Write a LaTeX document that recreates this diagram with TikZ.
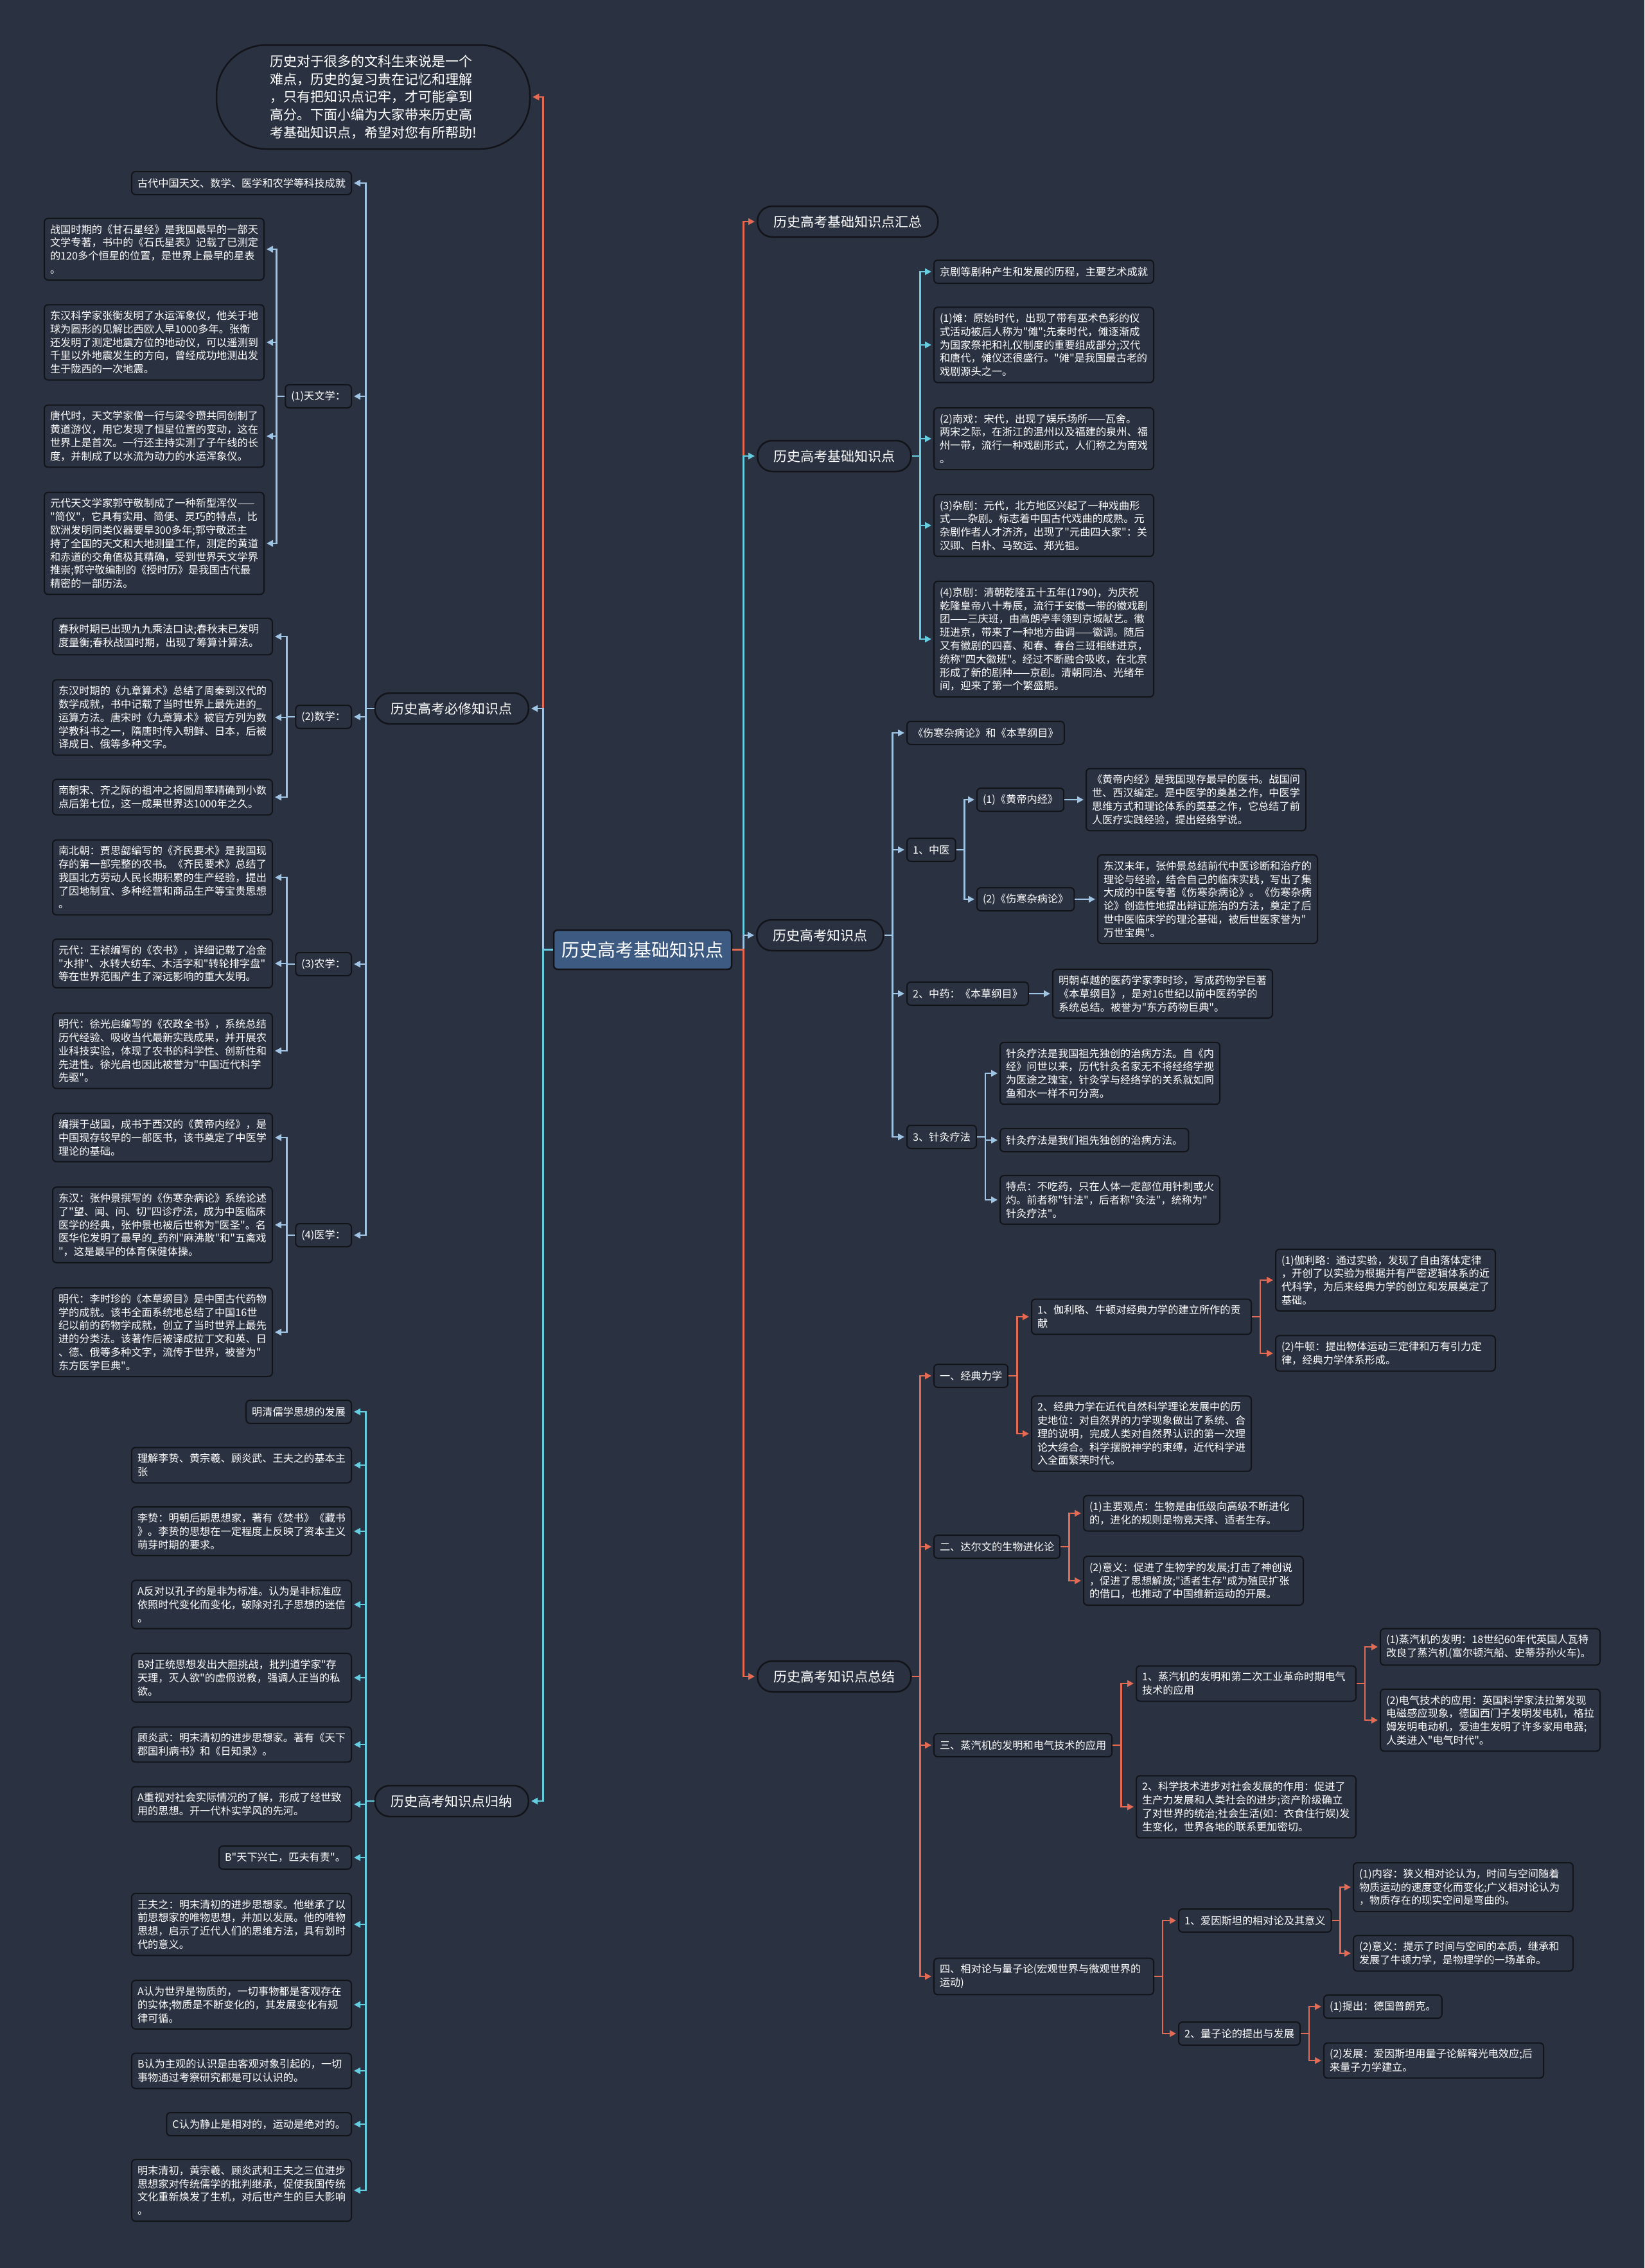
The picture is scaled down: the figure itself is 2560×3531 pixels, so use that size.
\documentclass[tikz,border=0pt]{standalone}
\usepackage{fontspec}
\newfontfamily\cjk{Noto Sans CJK SC}
\usetikzlibrary{arrows.meta}
\definecolor{bgc}{RGB}{42,49,64}
\definecolor{nodeline}{RGB}{18,20,26}
\definecolor{rootc}{RGB}{60,90,130}
\definecolor{lred}{RGB}{228,106,84}
\definecolor{lblue}{RGB}{160,196,228}
\definecolor{lcyan}{RGB}{102,204,224}
\tikzset{
 box/.style={draw=nodeline, line width=2pt, fill=bgc, rounded corners=6pt, inner xsep=9pt, inner ysep=9.5pt, align=left, text=white, font=\cjk\fontsize{16.2}{20.8}\selectfont},
 para/.style={box, text width=324pt},
 lab/.style={box, minimum height=36pt},
 topic/.style={draw=nodeline, line width=2.5pt, fill=bgc, rounded corners=23pt, inner xsep=25pt, inner ysep=0pt, minimum height=48pt, text=white, font=\cjk\fontsize{21}{26}\selectfont},
 rootst/.style={draw=nodeline, line width=2.5pt, fill=rootc, rounded corners=6pt, inner xsep=12pt, minimum height=61pt, minimum width=277pt, text=white, font=\cjk\fontsize{28}{32}\selectfont},
 introst/.style={draw=nodeline, line width=2.5pt, fill=bgc, rounded corners=78pt, minimum width=488pt, minimum height=162pt, text width=322pt, align=left, text=white, font=\cjk\fontsize{21}{27.7}\selectfont},
 conn/.style={line width=2.8pt, -{Triangle[length=10pt,width=10pt]}, shorten >=3pt},
}
\begin{document}
\begin{tikzpicture}[x=1pt,y=-1pt]
\useasboundingbox (0,0) rectangle (2560,3531);
\fill[bgc] (0,0) rectangle (2560,3531);

% ---------- root and intro ----------
\node[rootst] (root) at (1000.5,1478.5) {历史高考基础知识点};
\node[introst] (intro) at (581,151) {历史对于很多的文科生来说是一个\\难点，历史的复习贵在记忆和理解\\，只有把知识点记牢，才可能拿到\\高分。下面小编为大家带来历史高\\考基础知识点，希望对您有所帮助!};

% ---------- main topics ----------
\node[topic, anchor=east] (bixiu) at (824,1103) {历史高考必修知识点};
\node[topic, anchor=east] (guina) at (824,2804) {历史高考知识点归纳};
\node[topic, anchor=west] (huizong) at (1178,345) {历史高考基础知识点汇总};
\node[topic, anchor=west] (jichu) at (1178,710) {历史高考基础知识点};
\node[topic, anchor=west] (zsd) at (1177,1456) {历史高考知识点};
\node[topic, anchor=west] (zongjie) at (1178,2610) {历史高考知识点总结};

% ---------- 必修 branch ----------
\node[lab, anchor=east] (gudai) at (548,285) {古代中国天文、数学、医学和农学等科技成就};
\node[lab, anchor=east] (tw) at (548,617) {(1)天文学：};
\node[para, anchor=east] (T1) at (412,388) {战国时期的《甘石星经》是我国最早的一部天\\文学专著，书中的《石氏星表》记载了已测定\\的120多个恒星的位置，是世界上最早的星表\\。};
\node[para, anchor=east] (T2) at (412,533) {东汉科学家张衡发明了水运浑象仪，他关于地\\球为圆形的见解比西欧人早1000多年。张衡\\还发明了测定地震方位的地动仪，可以遥测到\\千里以外地震发生的方向，曾经成功地测出发\\生于陇西的一次地震。};
\node[para, anchor=east] (T3) at (412,679) {唐代时，天文学家僧一行与梁令瓒共同创制了\\黄道游仪，用它发现了恒星位置的变动，这在\\世界上是首次。一行还主持实测了子午线的长\\度，并制成了以水流为动力的水运浑象仪。};
\node[para, anchor=east] (T4) at (412,846) {元代天文学家郭守敬制成了一种新型浑仪——\\"简仪"，它具有实用、简便、灵巧的特点，比\\欧洲发明同类仪器要早300多年;郭守敬还主\\持了全国的天文和大地测量工作，测定的黄道\\和赤道的交角值极其精确，受到世界天文学界\\推崇;郭守敬编制的《授时历》是我国古代最\\精密的一部历法。};

\node[lab, anchor=east] (sx) at (548,1116) {(2)数学：};
\node[para, anchor=east] (M1) at (425,991) {春秋时期已出现九九乘法口诀;春秋末已发明\\度量衡;春秋战国时期，出现了筹算计算法。};
\node[para, anchor=east] (M2) at (425,1117) {东汉时期的《九章算术》总结了周秦到汉代的\\数学成就，书中记载了当时世界上最先进的\_\\运算方法。唐宋时《九章算术》被官方列为数\\学教科书之一，隋唐时传入朝鲜、日本，后被\\译成日、俄等多种文字。};
\node[para, anchor=east] (M3) at (425,1241) {南朝宋、齐之际的祖冲之将圆周率精确到小数\\点后第七位，这一成果世界达1000年之久。};

\node[lab, anchor=east] (nx) at (548,1501) {(3)农学：};
\node[para, anchor=east] (A1) at (425,1366) {南北朝：贾思勰编写的《齐民要术》是我国现\\存的第一部完整的农书。《齐民要术》总结了\\我国北方劳动人民长期积累的生产经验，提出\\了因地制宜、多种经营和商品生产等宝贵思想\\。};
\node[para, anchor=east] (A2) at (425,1500) {元代：王祯编写的《农书》，详细记载了冶金\\"水排"、水转大纺车、木活字和"转轮排字盘"\\等在世界范围产生了深远影响的重大发明。};
\node[para, anchor=east] (A3) at (425,1636) {明代：徐光启编写的《农政全书》，系统总结\\历代经验、吸收当代最新实践成果，并开展农\\业科技实验，体现了农书的科学性、创新性和\\先进性。徐光启也因此被誉为"中国近代科学\\先驱"。};

\node[lab, anchor=east] (yx) at (548,1923) {(4)医学：};
\node[para, anchor=east] (Y1) at (425,1771) {编撰于战国，成书于西汉的《黄帝内经》，是\\中国现存较早的一部医书，该书奠定了中医学\\理论的基础。};
\node[para, anchor=east] (Y2) at (425,1907) {东汉：张仲景撰写的《伤寒杂病论》系统论述\\了"望、闻、问、切"四诊疗法，成为中医临床\\医学的经典，张仲景也被后世称为"医圣"。名\\医华佗发明了最早的\_药剂"麻沸散"和"五禽戏\\"，这是最早的体育保健体操。};
\node[para, anchor=east] (Y3) at (425,2074) {明代：李时珍的《本草纲目》是中国古代药物\\学的成就。该书全面系统地总结了中国16世\\纪以前的药物学成就，创立了当时世界上最先\\进的分类法。该著作后被译成拉丁文和英、日\\、德、俄等多种文字，流传于世界，被誉为"\\东方医学巨典"。};

% ---------- 归纳 branch ----------
\node[lab, anchor=east] (G1) at (548,2198) {明清儒学思想的发展};
\node[para, anchor=east] (G2) at (548,2281) {理解李贽、黄宗羲、顾炎武、王夫之的基本主\\张};
\node[para, anchor=east] (G3) at (548,2384) {李贽：明朝后期思想家，著有《焚书》《藏书\\》。李贽的思想在一定程度上反映了资本主义\\萌芽时期的要求。};
\node[para, anchor=east] (G4) at (548,2498) {A反对以孔子的是非为标准。认为是非标准应\\依照时代变化而变化，破除对孔子思想的迷信\\。};
\node[para, anchor=east] (G5) at (548,2612) {B对正统思想发出大胆挑战，批判道学家"存\\天理，灭人欲"的虚假说教，强调人正当的私\\欲。};
\node[para, anchor=east] (G6) at (548,2716) {顾炎武：明末清初的进步思想家。著有《天下\\郡国利病书》和《日知录》。};
\node[para, anchor=east] (G7) at (548,2809) {A重视对社会实际情况的了解，形成了经世致\\用的思想。开一代朴实学风的先河。};
\node[lab, anchor=east] (G8) at (548,2892) {B"天下兴亡，匹夫有责"。};
\node[para, anchor=east] (G9) at (548,2996) {王夫之：明末清初的进步思想家。他继承了以\\前思想家的唯物思想，并加以发展。他的唯物\\思想，启示了近代人们的思维方法，具有划时\\代的意义。};
\node[para, anchor=east] (G10) at (548,3121) {A认为世界是物质的，一切事物都是客观存在\\的实体;物质是不断变化的，其发展变化有规\\律可循。};
\node[para, anchor=east] (G11) at (548,3224) {B认为主观的认识是由客观对象引起的，一切\\事物通过考察研究都是可以认识的。};
\node[lab, anchor=east] (G12) at (548,3307) {C认为静止是相对的，运动是绝对的。};
\node[para, anchor=east] (G13) at (548,3410) {明末清初，黄宗羲、顾炎武和王夫之三位进步\\思想家对传统儒学的批判继承，促使我国传统\\文化重新焕发了生机，对后世产生的巨大影响\\。};

% ---------- 基础知识点 branch ----------
\node[lab, anchor=west] (B1) at (1453,423) {京剧等剧种产生和发展的历程，主要艺术成就};
\node[para, anchor=west] (B2) at (1453,537) {(1)傩：原始时代，出现了带有巫术色彩的仪\\式活动被后人称为"傩";先秦时代，傩逐渐成\\为国家祭祀和礼仪制度的重要组成部分;汉代\\和唐代，傩仪还很盛行。"傩"是我国最古老的\\戏剧源头之一。};
\node[para, anchor=west] (B3) at (1453,683) {(2)南戏：宋代，出现了娱乐场所——瓦舍。\\两宋之际，在浙江的温州以及福建的泉州、福\\州一带，流行一种戏剧形式，人们称之为南戏\\。};
\node[para, anchor=west] (B4) at (1453,818) {(3)杂剧：元代，北方地区兴起了一种戏曲形\\式——杂剧。标志着中国古代戏曲的成熟。元\\杂剧作者人才济济，出现了"元曲四大家"：关\\汉卿、白朴、马致远、郑光祖。};
\node[para, anchor=west] (B5) at (1453,995) {(4)京剧：清朝乾隆五十五年(1790)，为庆祝\\乾隆皇帝八十寿辰，流行于安徽一带的徽戏剧\\团——三庆班，由高朗亭率领到京城献艺。徽\\班进京，带来了一种地方曲调——徽调。随后\\又有徽剧的四喜、和春、春台三班相继进京，\\统称"四大徽班"。经过不断融合吸收，在北京\\形成了新的剧种——京剧。清朝同治、光绪年\\间，迎来了第一个繁盛期。};

% ---------- 知识点 branch ----------
\node[lab, anchor=west] (K1) at (1411,1141) {《伤寒杂病论》和《本草纲目》};
\node[lab, anchor=west] (K2) at (1411,1323) {1、中医};
\node[lab, anchor=west] (K2a) at (1520,1245) {(1)《黄帝内经》};
\node[lab, anchor=west] (K2b) at (1520,1400) {(2)《伤寒杂病论》};
\node[para, anchor=west] (K2at) at (1690,1245) {《黄帝内经》是我国现存最早的医书。战国问\\世、西汉编定。是中医学的奠基之作，中医学\\思维方式和理论体系的奠基之作，它总结了前\\人医疗实践经验，提出经络学说。};
\node[para, anchor=west] (K2bt) at (1708,1400) {东汉末年，张仲景总结前代中医诊断和治疗的\\理论与经验，结合自己的临床实践，写出了集\\大成的中医专著《伤寒杂病论》。《伤寒杂病\\论》创造性地提出辩证施治的方法，奠定了后\\世中医临床学的理沦基础，被后世医家誉为"\\万世宝典"。};
\node[lab, anchor=west] (K3) at (1411,1547) {2、中药：《本草纲目》};
\node[para, anchor=west] (K3t) at (1638,1547) {明朝卓越的医药学家李时珍，写成药物学巨著\\《本草纲目》，是对16世纪以前中医药学的\\系统总结。被誉为"东方药物巨典"。};
\node[lab, anchor=west] (K4) at (1411,1770) {3、针灸疗法};
\node[para, anchor=west] (K4a) at (1556,1671) {针灸疗法是我国祖先独创的治病方法。自《内\\经》问世以来，历代针灸名家无不将经络学视\\为医途之瑰宝，针灸学与经络学的关系就如同\\鱼和水一样不可分离。};
\node[lab, anchor=west] (K4b) at (1556,1775) {针灸疗法是我们祖先独创的治病方法。};
\node[para, anchor=west] (K4c) at (1556,1868) {特点：不吃药，只在人体一定部位用针刺或火\\灼。前者称"针法"，后者称"灸法"，统称为"\\针灸疗法"。};

% ---------- 总结 branch ----------
\node[lab, anchor=west] (S1) at (1453,2142) {一、经典力学};
\node[para, anchor=west] (S1a) at (1605,2050) {1、伽利略、牛顿对经典力学的建立所作的贡\\献};
\node[para, anchor=west] (S1a1) at (1985,1993) {(1)伽利略：通过实验，发现了自由落体定律\\，开创了以实验为根据并有严密逻辑体系的近\\代科学，为后来经典力学的创立和发展奠定了\\基础。};
\node[para, anchor=west] (S1a2) at (1985,2107) {(2)牛顿：提出物体运动三定律和万有引力定\\律，经典力学体系形成。};
\node[para, anchor=west] (S1b) at (1605,2232) {2、经典力学在近代自然科学理论发展中的历\\史地位：对自然界的力学现象做出了系统、合\\理的说明，完成人类对自然界认识的第一次理\\论大综合。科学摆脱神学的束缚，近代科学进\\入全面繁荣时代。};
\node[lab, anchor=west] (S2) at (1453,2408) {二、达尔文的生物进化论};
\node[para, anchor=west] (S2a) at (1686,2356) {(1)主要观点：生物是由低级向高级不断进化\\的，进化的规则是物竞天择、适者生存。};
\node[para, anchor=west] (S2b) at (1686,2461) {(2)意义：促进了生物学的发展;打击了神创说\\，促进了思想解放;"适者生存"成为殖民扩张\\的借口，也推动了中国维新运动的开展。};
\node[lab, anchor=west] (S3) at (1453,2717) {三、蒸汽机的发明和电气技术的应用};
\node[para, anchor=west] (S3a) at (1768,2621) {1、蒸汽机的发明和第二次工业革命时期电气\\技术的应用};
\node[para, anchor=west] (S3a1) at (2148,2564) {(1)蒸汽机的发明：18世纪60年代英国人瓦特\\改良了蒸汽机(富尔顿汽船、史蒂芬孙火车)。};
\node[para, anchor=west] (S3a2) at (2148,2678) {(2)电气技术的应用：英国科学家法拉第发现\\电磁感应现象，德国西门子发明发电机，格拉\\姆发明电动机，爱迪生发明了许多家用电器;\\人类进入"电气时代"。};
\node[para, anchor=west] (S3b) at (1768,2813) {2、科学技术进步对社会发展的作用：促进了\\生产力发展和人类社会的进步;资产阶级确立\\了对世界的统治;社会生活(如：衣食住行娱)发\\生变化，世界各地的联系更加密切。};
\node[para, anchor=west] (S4) at (1453,3077) {四、相对论与量子论(宏观世界与微观世界的\\运动)};
\node[lab, anchor=west] (S4a) at (1834,2990) {1、爱因斯坦的相对论及其意义};
\node[para, anchor=west] (S4a1) at (2106,2938) {(1)内容：狭义相对论认为，时间与空间随着\\物质运动的速度变化而变化;广义相对论认为\\，物质存在的现实空间是弯曲的。};
\node[para, anchor=west] (S4a2) at (2106,3041) {(2)意义：提示了时间与空间的本质，继承和\\发展了牛顿力学，是物理学的一场革命。};
\node[lab, anchor=west] (S4b) at (1834,3166) {2、量子论的提出与发展};
\node[lab, anchor=west] (S4b1) at (2060,3124) {(1)提出：德国普朗克。};
\node[para, anchor=west] (S4b2) at (2060,3208) {(2)发展：爱因斯坦用量子论解释光电效应;后\\来量子力学建立。};

% ---------- connectors ----------
\draw[conn, lred] (root.west) -- ++(-15,0) |- (intro.east);
\draw[conn, lblue] (root.west) -- ++(-15,0) |- (bixiu.east);
\draw[conn, lcyan] (root.west) -- ++(-15,0) |- (guina.east);
\draw[conn, lred] (root.east) -- ++(17,0) |- (huizong.west);
\draw[conn, lcyan] (root.east) -- ++(17,0) |- (jichu.west);
\draw[conn, lblue] (root.east) -- ++(17,0) |- (zsd.west);
\draw[conn, lred] (root.east) -- ++(17,0) |- (zongjie.west);

\foreach \c in {gudai,tw,sx,nx,yx} \draw[conn, lblue] (bixiu.west) -- ++(-13,0) |- (\c.east);
\foreach \c in {T1,T2,T3,T4} \draw[conn, lblue] (tw.west) -- ++(-13,0) |- (\c.east);
\foreach \c in {M1,M2,M3} \draw[conn, lblue] (sx.west) -- ++(-13,0) |- (\c.east);
\foreach \c in {A1,A2,A3} \draw[conn, lblue] (nx.west) -- ++(-13,0) |- (\c.east);
\foreach \c in {Y1,Y2,Y3} \draw[conn, lblue] (yx.west) -- ++(-13,0) |- (\c.east);
\foreach \c in {G1,G2,G3,G4,G5,G6,G7,G8,G9,G10,G11,G12,G13} \draw[conn, lcyan] (guina.west) -- ++(-13,0) |- (\c.east);

\foreach \c in {B1,B2,B3,B4,B5} \draw[conn, lcyan] (jichu.east) -- ++(13,0) |- (\c.west);

\foreach \c in {K1,K2,K3,K4} \draw[conn, lblue] (zsd.east) -- ++(13,0) |- (\c.west);
\foreach \c in {K2a,K2b} \draw[conn, lblue] (K2.east) -- ++(13,0) |- (\c.west);
\draw[conn, lblue] (K2a.east) -- (K2at.west);
\draw[conn, lblue] (K2b.east) -- (K2bt.west);
\draw[conn, lblue] (K3.east) -- (K3t.west);
\foreach \c in {K4a,K4b,K4c} \draw[conn, lblue] (K4.east) -- ++(13,0) |- (\c.west);

\foreach \c in {S1,S2,S3,S4} \draw[conn, lred] (zongjie.east) -- ++(13,0) |- (\c.west);
\foreach \c in {S1a,S1b} \draw[conn, lred] (S1.east) -- ++(13,0) |- (\c.west);
\foreach \c in {S1a1,S1a2} \draw[conn, lred] (S1a.east) -- ++(13,0) |- (\c.west);
\foreach \c in {S2a,S2b} \draw[conn, lred] (S2.east) -- ++(13,0) |- (\c.west);
\foreach \c in {S3a,S3b} \draw[conn, lred] (S3.east) -- ++(13,0) |- (\c.west);
\foreach \c in {S3a1,S3a2} \draw[conn, lred] (S3a.east) -- ++(13,0) |- (\c.west);
\foreach \c in {S4a,S4b} \draw[conn, lred] (S4.east) -- ++(13,0) |- (\c.west);
\foreach \c in {S4a1,S4a2} \draw[conn, lred] (S4a.east) -- ++(13,0) |- (\c.west);
\foreach \c in {S4b1,S4b2} \draw[conn, lred] (S4b.east) -- ++(13,0) |- (\c.west);
\end{tikzpicture}
\end{document}
